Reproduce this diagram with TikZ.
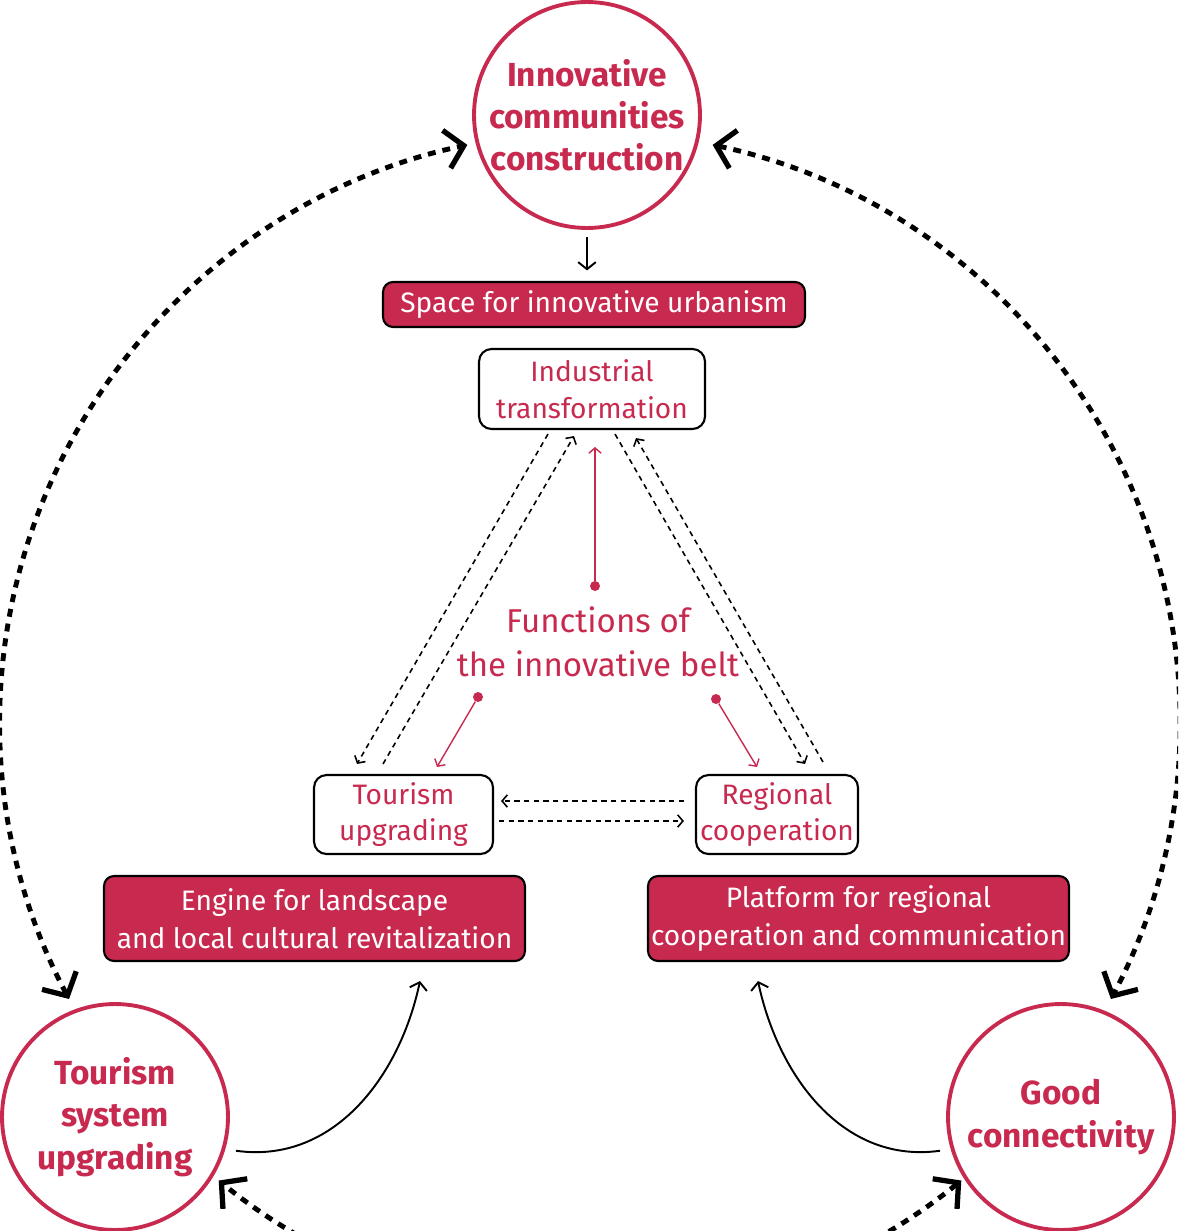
\documentclass[tikz,border=0pt]{standalone}
\usepackage{fontspec}
\setmainfont{Fira Sans}
\usetikzlibrary{arrows.meta}
\definecolor{belt}{HTML}{C8294F}

\begin{document}
\begin{tikzpicture}[x=0.02cm, y=0.02cm,
	hub/.style={circle, draw=belt, line width=2.2pt, fill=white, minimum size=4.52cm, inner sep=0pt,
		text=belt, align=center, font=\bfseries\fontsize{19}{24}\selectfont},
	redbox/.style={draw=black, line width=1.2pt, fill=belt, rounded corners=0.2cm, text=white,
		align=center, inner sep=0pt, font=\fontsize{16}{21.5}\selectfont},
	whitebox/.style={draw=black, line width=1.2pt, fill=white, rounded corners=0.25cm, text=belt,
		align=center, inner sep=0pt, font=\fontsize{16}{21}\selectfont},
	loopline/.style={line width=2.8pt, dash pattern=on 4.5pt off 4pt,
		{Straight Barb[length=10pt,width=22pt,line width=3pt]}-{Straight Barb[length=10pt,width=22pt,line width=3pt]}},
	feedback/.style={line width=0.9pt, dash pattern=on 3pt off 2.5pt, -{Straight Barb[length=3pt,width=7pt]}},
	redpin/.style={belt, line width=0.8pt, -{Straight Barb[length=3pt,width=7pt]}},
	reddot/.style={circle, fill=belt, minimum size=0.2cm, inner sep=0pt},
	swing/.style={line width=1.1pt, -{Straight Barb[length=4pt,width=10pt]}}
]
			\useasboundingbox (0,0) rectangle (1178,-1231);
			\clip (0,0) rectangle (1178,-1231);

			% outer ring
			\coordinate (centre) at (590,-722);
			\draw[loopline] ([shift={(208:590)}]centre) arc[start angle=208, end angle=102, radius=590];
			\draw[loopline] ([shift={(78:590)}]centre) arc[start angle=78, end angle=-28, radius=590];
			\draw[loopline] ([shift={(-51:590)}]centre) arc[start angle=-51, end angle=-129, radius=590];

			% three circles
			\node[hub] (innov) at (587,-115) {Innovative\\communities\\construction};
			\node[hub] (tourism) at (115,-1117) {Tourism\\system\\upgrading};
			\node[hub] (good) at (1061,-1117) {Good\\connectivity};

			% red boxes
			\node[redbox, minimum width=8.44cm, minimum height=0.9cm] (space) at (594,-304.5) {Space for innovative urbanism};
			\node[redbox, minimum width=8.42cm, minimum height=1.7cm] (engine) at (314.5,-918.5) {Engine for landscape\\and local cultural revitalization};
			\node[redbox, minimum width=8.42cm, minimum height=1.7cm] (platform) at (858.5,-918.5) {Platform for regional\\cooperation and communication};

			% functions
			\node[whitebox, minimum width=4.52cm, minimum height=1.6cm] (indus) at (592,-389) {Industrial\\transformation};
			\node[whitebox, minimum width=3.58cm, minimum height=1.58cm] (tup) at (403.5,-814.5) {Tourism\\upgrading};
			\node[whitebox, minimum width=3.24cm, minimum height=1.58cm] (rco) at (777,-814.5) {Regional\\cooperation};
			\node[text=belt, align=center, font=\fontsize{18.8}{25}\selectfont] (belt) at (598,-642) {Functions of\\the innovative belt};

			\draw[line width=1.1pt, -{Straight Barb[length=4pt,width=10pt]}] ([yshift=-4]innov.south) -- ([yshift=6]innov.south |- space.north);

			% dots
			\node[reddot] (d1) at (595,-586) {};
			\node[reddot] (d2) at (478,-697) {};
			\node[reddot] (d3) at (716,-699) {};
			\coordinate (t1) at (595,-447);
			\coordinate (t2) at (437,-767);
			\coordinate (t3) at (757,-767);
			\draw[redpin] (d1) -- (t1);
			\draw[redpin] (d2) -- (t2);
			\draw[redpin] (d3) -- (t3);

			% dashed links
			\draw[feedback] ([shift={(-44,-4)}]indus.south) -- ([shift={(-46.5,10)}]tup.north);
			\draw[feedback] ([shift={(-20.5,10)}]tup.north) -- ([shift={(-18,-6)}]indus.south);
			\draw[feedback] ([shift={(23,-4)}]indus.south) -- ([shift={(28,10)}]rco.north);
			\draw[feedback] ([shift={(46,12)}]rco.north) -- ([shift={(44,-8)}]indus.south);
			\draw[feedback] ([shift={(-11,13.5)}]rco.west) -- ([shift={(7,13.5)}]tup.east);
			\draw[feedback] ([shift={(5,-6.5)}]tup.east) -- ([shift={(-11,-6.5)}]rco.west);

			% curved arrows
			\draw[swing] ([shift={(10,-4)}]tourism.-15) to[out=-8, in=-102] ([shift={(105.5,-19)}]engine.south);
			\draw[swing] ([shift={(-10,-4)}]good.195) to[out=188, in=-78] ([shift={(-100.5,-19)}]platform.south);
		\end{tikzpicture}
\end{document}
